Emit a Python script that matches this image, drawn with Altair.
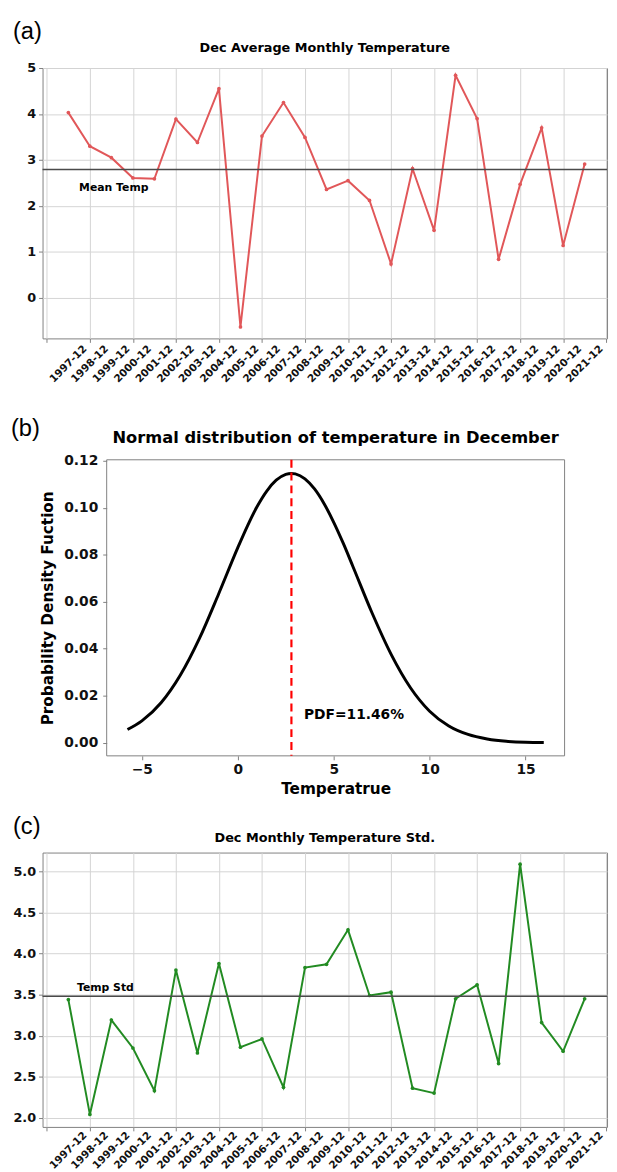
import altair as alt
import pandas as pd

# ---------------- data ----------------
months = ["1997-12", "1998-12", "1999-12", "2000-12", "2001-12", "2002-12", "2003-12",
          "2004-12", "2005-12", "2006-12", "2007-12", "2008-12", "2009-12", "2010-12",
          "2011-12", "2012-12", "2013-12", "2014-12", "2015-12", "2016-12", "2017-12",
          "2018-12", "2019-12", "2020-12", "2021-12"]
avg_temp = [4.03, 3.30, 3.05, 2.61, 2.59, 3.89, 3.38, 4.55, -0.63, 3.52, 4.25, 3.49, 2.36,
            2.55, 2.12, 0.74, 2.81, 1.47, 4.84, 3.90, 0.84, 2.47, 3.70, 1.14, 2.91]
std_temp = [3.44, 2.04, 3.19, 2.85, 2.33, 3.80, 2.79, 3.88, 2.86, 2.96, 2.37, 3.83, 3.87,
            4.29, 3.49, 3.53, 2.36, 2.30, 3.45, 3.62, 2.66, 5.09, 3.16, 2.81, 3.45]
mean_temp = 2.795
temp_std = 3.48
pdf_x = [-5.75, -5, -4, -3, -2, -1, 0, 0.5, 1, 1.5, 2, 2.5, 2.795, 3, 3.5, 4, 4.5, 5, 5.5,
         6, 7, 8, 9, 10, 11, 12, 13, 14, 15, 15.95]
pdf_y = [0.0056, 0.0093, 0.0170, 0.0287, 0.0444, 0.0633, 0.0830, 0.0922, 0.1004, 0.1070,
         0.1117, 0.1142, 0.1146, 0.1144, 0.1123, 0.1080, 0.1017, 0.0938, 0.0848,
         0.0750, 0.0552, 0.0375, 0.0234, 0.0134, 0.0071, 0.0035, 0.0016, 0.0006, 0.0002, 0.0001]
pdf_label = "PDF=11.46%"
titles = ["Dec Average Monthly Temperature",
          "Normal distribution of temperature in December",
          "Dec Monthly Temperature Std."]
b_xdom = [-6.835, 17.035]
b_ydom = [-0.0056, 0.1204]

# ---------------- style ----------------
FONT = "DejaVu Sans"
PANEL_FONT = "Liberation Sans"
RED = "#e15759"
GREEN = "#228b22"
GRID = "#d4d4d4"
FRAME = "#808080"
W_TS = 572
B_SHIFT = 65      # panel (b) plot starts 65px right of the other panels
B_W = 464


def text_at(txt, dx, dy, size, align="left", baseline="top", font=FONT, weight="bold"):
    return alt.Chart(pd.DataFrame({"t": [txt]})).mark_text(
        font=font, fontSize=size, fontWeight=weight, align=align, baseline=baseline,
        color="black"
    ).encode(x=alt.value(dx), y=alt.value(dy), text="t:N")


def spacer(top, bottom):
    # invisible rule that fixes the vertical extent of a panel
    return alt.Chart(pd.DataFrame({"t": [0]})).mark_rule(opacity=0, strokeWidth=0.01).encode(
        x=alt.value(1), y=alt.value(top), y2=alt.value(bottom))


def ts_panel(values, color, title, ydom, yvals, fmt, height, ref_val, ref_text, ref_pos,
             lab, lab_y, lab_baseline, toff, month_dy, ext_top, ext_bottom):
    df = pd.DataFrame({"i": list(range(len(months))), "month": months, "v": values})
    x = alt.X("i:Q", scale=alt.Scale(domain=[-1.2, 25.04], nice=False, zero=False),
              axis=alt.Axis(values=list(range(-1, 26)), labels=False, tickSize=4,
                            tickColor=FRAME, domain=False, grid=True, gridColor=GRID,
                            title=None))
    y = alt.Y("v:Q", scale=alt.Scale(domain=ydom, nice=False, zero=False),
              axis=alt.Axis(values=yvals, format=fmt, labelFont=FONT, labelFontWeight="bold",
                            labelFontSize=13, labelColor="#111", labelPadding=3, tickSize=4,
                            tickColor=FRAME, domain=False, grid=True, gridColor=GRID,
                            title=None))
    base = alt.Chart(df)
    line = base.mark_line(color=color, strokeWidth=2,
                          point=alt.OverlayMarkDef(color=color, size=14, filled=True)).encode(
        x=x, y=y)
    month_txt = base.mark_text(font=FONT, fontWeight="bold", fontSize=10.5, angle=315,
                               align="center", baseline="middle", color="#111").encode(
        x="i:Q", y=alt.value(height + month_dy), text="month:N")
    rule = alt.Chart(pd.DataFrame({"v": [ref_val]})).mark_rule(
        color="#4a4a4a", strokeWidth=1.5).encode(y="v:Q")
    txt = alt.Chart(pd.DataFrame({"i": [ref_pos[0]], "v": [ref_pos[1]], "t": [ref_text]})).mark_text(
        font=FONT, fontWeight="bold", fontSize=11, align="left", baseline="middle",
        color="black").encode(x="i:Q", y="v:Q", text="t:N")
    return alt.layer(
        line, month_txt, rule, txt,
        text_at(lab, -30, lab_y, 24, baseline=lab_baseline, font=PANEL_FONT, weight="normal"),
        text_at(title, W_TS / 2, -toff, 13, align="center", baseline="alphabetic"),
        spacer(-ext_top, height + ext_bottom),
    ).properties(width=W_TS, height=height, view=alt.ViewBackground(stroke=FRAME))


panel_a = ts_panel(avg_temp, RED, titles[0], [-0.88, 5.0], [0, 1, 2, 3, 4, 5], "d", 274,
                   mean_temp, "Mean Temp", (0.5, 2.38), "(a)", -29.5, "alphabetic", 16, 26,
                   52, 66.5)

panel_c = ts_panel(std_temp, GREEN, titles[2], [1.888, 5.232],
                   [2.0, 2.5, 3.0, 3.5, 4.0, 4.5, 5.0], ".1f", 278, temp_std, "Temp Std",
                   (0.4, 3.58), "(c)", -38, "top", 10.5, 24, 50, 46)

# ---------------- panel (b) ----------------
df_pdf = pd.DataFrame({"x": pdf_x, "p": pdf_y})
xb = alt.X("x:Q", scale=alt.Scale(domain=b_xdom, nice=False, zero=False,
                                  range=[B_SHIFT, B_SHIFT + B_W]),
           axis=alt.Axis(values=[-5, 0, 5, 10, 15],
                         labelExpr="replace(datum.label, '-', '\u2212')",
                         labelFont=FONT, labelFontWeight="bold", labelFontSize=14,
                         labelColor="#111", labelPadding=3, tickSize=4, tickColor=FRAME,
                         domain=False, grid=False, title="Temperatrue", titleFont=FONT,
                         titleFontSize=15.5, titleFontWeight="bold", titleColor="black",
                         titlePadding=5, labelFlush=False))
yb = alt.Y("p:Q", scale=alt.Scale(domain=b_ydom, nice=False, zero=False),
           axis=alt.Axis(values=[0, 0.02, 0.04, 0.06, 0.08, 0.10, 0.12], format=".2f",
                         offset=-B_SHIFT,
                         labelFont=FONT, labelFontWeight="bold", labelFontSize=14,
                         labelColor="#111", labelPadding=5, tickSize=4, tickColor=FRAME,
                         domain=False, grid=False, title="Probability Density Fuction",
                         titleFont=FONT, titleFontSize=15.5, titleFontWeight="bold",
                         titleColor="black", titlePadding=8))
frame_b = alt.Chart(pd.DataFrame({"x": [b_xdom[0]], "x2": [b_xdom[1]],
                                  "p": [b_ydom[0]], "p2": [b_ydom[1]]})).mark_rect(
    fill="white", fillOpacity=0, stroke=FRAME, strokeWidth=1).encode(
    x=alt.X("x:Q"), x2="x2:Q", y=alt.Y("p:Q"), y2="p2:Q")
curve = alt.Chart(df_pdf).mark_line(color="black", strokeWidth=3, interpolate="monotone").encode(
    x=xb, y=yb)
mean_rule = alt.Chart(pd.DataFrame({"x": [mean_temp]})).mark_rule(
    color="red", strokeWidth=2.2, strokeDash=[8, 5]).encode(x="x:Q")
pdf_txt = alt.Chart(pd.DataFrame({"x": [3.45], "p": [0.0118], "t": [pdf_label]})).mark_text(
    font=FONT, fontWeight="bold", fontSize=14, align="left", baseline="middle",
    color="black").encode(x="x:Q", y="p:Q", text="t:N")
panel_b = alt.layer(
    curve, frame_b, mean_rule, pdf_txt,
    text_at("(b)", -32, -43.5, 24, font=PANEL_FONT, weight="normal"),
    text_at(titles[1], B_SHIFT + B_W / 2, -17, 16.5, align="center", baseline="alphabetic"),
    spacer(-55, 300 + 46.5),
).properties(width=B_SHIFT + B_W, height=300,
             view=alt.ViewBackground(stroke="transparent"))

chart = alt.vconcat(panel_a, panel_b, panel_c, spacing=0).properties(
    padding={"left": 2, "top": 0, "right": 0, "bottom": 0}
).configure(background="white")

chart.save("out.html", embed_options={"renderer": "svg", "actions": False})
